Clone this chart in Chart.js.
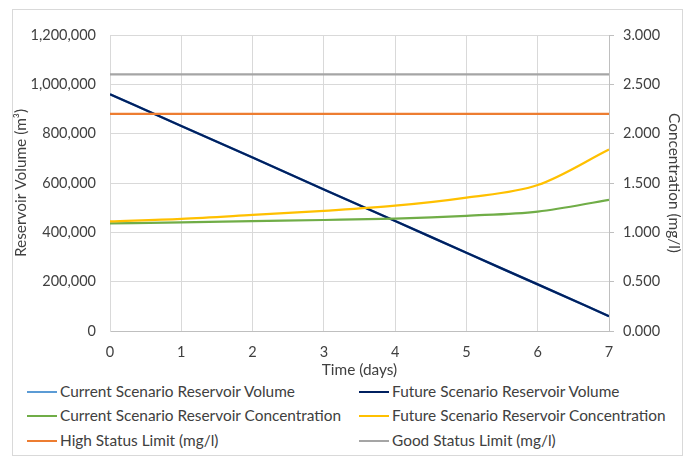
<!DOCTYPE html>
<html>
<head>
<meta charset="utf-8">
<script src="https://cdn.jsdelivr.net/npm/chart.js@4"></script>
<style>
    body { margin: 0; background: #fff; font-family: Lato, "Open Sans", sans-serif; }
    #box { position: absolute; left: 12px; top: 9px; width: 669px; height: 445px; border: 1px solid #d9d9d9; }
    #chartwrap { position: absolute; left: 0; top: 0; width: 669px; height: 370px; }
    #legend { position: absolute; left: 0; top: 370px; width: 669px; }
    .leg { position: absolute; font-size: 15.4px; color: #404040; white-space: nowrap; line-height: 16px; }
    .leg span.ln { display: inline-block; width: 30px; height: 0; border-top: 2.5px solid; vertical-align: middle; margin-right: 3px; position: relative; top: -1px; }
</style>
</head>
<body>
<div id="box">
    <div id="chartwrap"><canvas id="chartReservoir"></canvas></div>
    <div id="legend"></div>
</div>
<script>
var days = [0, 1, 2, 3, 4, 5, 6, 7];
var currentVolume = [960000, 831000, 703000, 574000, 446000, 317000, 189000, 60000];
var futureVolume = [960000, 831000, 703000, 574000, 446000, 317000, 189000, 60000];
var currentConc = [1.090, 1.100, 1.113, 1.125, 1.140, 1.168, 1.210, 1.330];
var futureConc = [1.110, 1.136, 1.176, 1.218, 1.270, 1.352, 1.480, 1.840];
var highLimit = [2.2, 2.2, 2.2, 2.2, 2.2, 2.2, 2.2, 2.2];
var goodLimit = [2.6, 2.6, 2.6, 2.6, 2.6, 2.6, 2.6, 2.6];
var volumeTicks = [0, 200000, 400000, 600000, 800000, 1000000, 1200000];

function toPoints(vals) {
    return days.map(function (d, i) { return { x: d, y: vals[i] }; });
}

var seriesList = [
    { label: "Current Scenario Reservoir Volume", data: currentVolume, color: "#5b9bd5", axis: "yVol" },
    { label: "Future Scenario Reservoir Volume", data: futureVolume, color: "#002060", axis: "yVol" },
    { label: "Current Scenario Reservoir Concentration", data: currentConc, color: "#70ad47", axis: "yConc" },
    { label: "Future Scenario Reservoir Concentration", data: futureConc, color: "#ffc000", axis: "yConc" },
    { label: "High Status Limit (mg/l)", data: highLimit, color: "#ed7d31", axis: "yConc" },
    { label: "Good Status Limit (mg/l)", data: goodLimit, color: "#a5a5a5", axis: "yConc" }
];

var textColor = '#404040';
var tickFont = { family: 'Lato', size: 14.5 };
var titleFont = { family: 'Lato', size: 15.4, lineHeight: 1 };

var chartDiv = document.getElementById("chartReservoir");
var myChart = new Chart(chartDiv, {
    type: 'line',
    data: {
        datasets: seriesList.map(function (s, i) {
            return {
                label: s.label,
                data: toPoints(s.data),
                borderColor: s.color,
                backgroundColor: s.color,
                borderWidth: 2.25,
                pointRadius: 0,
                tension: 0.3,
                cubicInterpolationMode: 'monotone',
                yAxisID: s.axis,
                order: 6 - i
            };
        })
    },
    options: {
        responsive: true,
        maintainAspectRatio: false,
        animation: false,
        layout: { padding: { top: 25, left: 0, right: 0, bottom: 0 } },
        plugins: { legend: { display: false }, tooltip: { enabled: false } },
        scales: {
            x: {
                type: 'linear',
                min: 0,
                max: 7,
                afterFit: function (axis) { axis.height = 49; },
                ticks: { stepSize: 1, color: textColor, font: tickFont, padding: 13 },
                grid: { color: '#d9d9d9', drawTicks: false, lineWidth: 1 },
                border: { color: '#bfbfbf' },
                title: { display: true, text: 'Time (days)', color: textColor, font: titleFont, padding: { top: 0, bottom: 2 } }
            },
            yVol: {
                position: 'left',
                min: 0,
                max: 1200000,
                afterFit: function (axis) { axis.width = 97; },
                afterBuildTicks: function (axis) {
                    axis.ticks = volumeTicks.map(function (v) { return { value: v }; });
                },
                ticks: {
                    color: textColor, font: tickFont, padding: 14,
                    callback: function (v) { return v.toLocaleString('en-US'); }
                },
                grid: { color: '#d9d9d9', drawTicks: false },
                border: { color: '#d9d9d9' },
                title: { display: true, text: 'Reservoir Volume (m\u00b3)', color: textColor, font: titleFont, padding: { top: 0, bottom: 0 } }
            },
            yConc: {
                position: 'right',
                min: 0,
                max: 3,
                afterFit: function (axis) { axis.width = 73; },
                ticks: {
                    stepSize: 0.5, color: textColor, font: tickFont, padding: 9,
                    callback: function (v) { return v.toFixed(3); }
                },
                grid: { drawOnChartArea: false, color: '#bfbfbf', tickLength: 5 },
                border: { color: '#bfbfbf' },
                title: { display: true, text: 'Concentration (mg/l)', color: textColor, font: titleFont, padding: { top: 0, bottom: 3 } }
            }
        }
    }
});

/* legend in two columns like the original */
var legendPos = [[14, 3], [346, 3], [14, 27], [346, 27], [14, 52], [346, 52]];
var legendHtml = "";
var $legend = document.getElementById("legend");
seriesList.forEach(function (s, i) {
    legendHtml += '<div class="leg" style="left:' + legendPos[i][0] + 'px;top:' + legendPos[i][1] + 'px">'
        + '<span class="ln" style="border-color:' + s.color + '"></span>' + s.label + '</div>';
});
$legend.innerHTML = legendHtml;
</script>
</body>
</html>
